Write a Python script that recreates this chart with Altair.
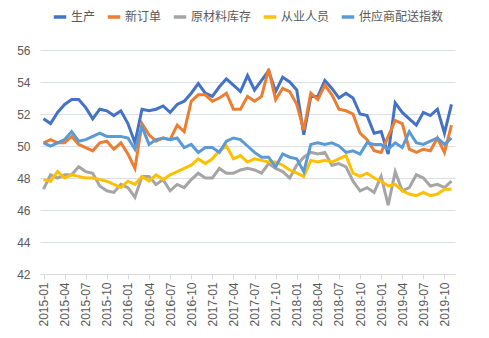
import altair as alt
import pandas as pd

months = [f"{y}-{m:02d}" for y in range(2015, 2020) for m in range(1, 13)][:59]

production = [51.7, 51.4, 52.1, 52.6, 52.9, 52.9, 52.4, 51.7, 52.3, 52.2, 51.9, 52.2,
              51.4, 50.2, 52.3, 52.2, 52.3, 52.5, 52.1, 52.6, 52.8, 53.3, 53.9, 53.3,
              53.1, 53.7, 54.2, 53.8, 53.4, 54.4, 53.5, 54.1, 54.7, 53.4, 54.3, 54.0,
              53.5, 50.7, 53.1, 53.1, 54.1, 53.6, 53.0, 53.3, 53.0, 52.0, 51.9, 50.8,
              50.9, 49.5, 52.7, 52.1, 51.7, 51.3, 52.1, 51.9, 52.3, 50.8, 52.6]
new_orders = [50.2, 50.4, 50.2, 50.2, 50.6, 50.1, 49.9, 49.7, 50.2, 50.3, 49.8, 50.2,
              49.5, 48.6, 51.4, 50.7, 50.3, 50.5, 50.4, 51.3, 50.9, 52.8, 53.2, 53.2,
              52.8, 53.0, 53.3, 52.3, 52.3, 53.1, 52.8, 53.1, 54.8, 52.9, 53.6, 53.4,
              52.6, 51.0, 53.3, 52.9, 53.8, 53.2, 52.3, 52.2, 52.0, 50.8, 50.4, 49.7,
              49.6, 50.6, 51.6, 51.4, 49.8, 49.6, 49.8, 49.7, 50.5, 49.6, 51.3]
raw_inventory = [47.3, 48.2, 48.0, 48.2, 48.2, 48.7, 48.4, 48.3, 47.5, 47.2, 47.1, 47.6,
                 47.4, 46.8, 48.1, 48.1, 47.6, 47.9, 47.2, 47.6, 47.4, 47.9, 48.3, 48.0,
                 48.0, 48.6, 48.3, 48.3, 48.5, 48.6, 48.5, 48.3, 48.9, 48.6, 48.4, 48.0,
                 48.8, 49.3, 49.6, 49.5, 49.6, 48.8, 48.9, 48.7, 47.8, 47.2, 47.4, 47.1,
                 48.1, 46.3, 48.4, 47.2, 47.4, 48.2, 48.0, 47.5, 47.6, 47.4, 47.8]
employment = [47.9, 47.8, 48.4, 48.0, 48.2, 48.1, 48.0, 48.0, 47.9, 47.8, 47.6, 47.4,
              47.8, 47.6, 48.1, 47.8, 48.2, 47.9, 48.2, 48.4, 48.6, 48.8, 49.2, 48.9,
              49.2, 49.7, 50.0, 49.2, 49.4, 49.0, 49.2, 49.1, 49.0, 49.0, 48.8, 48.5,
              48.3, 48.1, 49.1, 49.0, 49.1, 49.0, 49.2, 49.4, 48.3, 48.1, 48.3, 48.0,
              47.8, 47.5, 47.6, 47.2, 47.0, 46.9, 47.1, 46.9, 47.0, 47.3, 47.3]
supplier = [50.2, 50.0, 50.2, 50.4, 50.9, 50.3, 50.4, 50.6, 50.8, 50.6, 50.6, 50.6,
            50.5, 49.8, 51.2, 50.1, 50.4, 50.5, 50.4, 50.5, 49.9, 50.1, 49.6, 49.9,
            49.9, 49.6, 50.3, 50.5, 50.4, 50.0, 49.6, 49.3, 49.3, 48.7, 49.5, 49.3,
            49.2, 48.4, 50.1, 50.2, 50.1, 50.2, 50.0, 49.6, 49.7, 49.5, 50.2, 50.1,
            50.1, 49.8, 50.2, 49.9, 50.9, 50.2, 50.1, 50.3, 50.5, 50.1, 50.5]

series_names = ["生产", "新订单", "原材料库存", "从业人员", "供应商配送指数"]
series_values = [production, new_orders, raw_inventory, employment, supplier]
colors = ["#4472C4", "#ED7D31", "#A5A5A5", "#FFC000", "#5B9BD5"]
y_ticks = [42, 44, 46, 48, 50, 52, 54, 56]

rows = []
for name, vals in zip(series_names, series_values):
    for m, v in zip(months, vals):
        rows.append({"month": m, "series": name, "value": v})
df = pd.DataFrame(rows)

chart = alt.Chart(df).mark_line(strokeWidth=3).encode(
    x=alt.X("month:O",
            scale=alt.Scale(type="point", padding=0.5),
            sort=months,
            axis=alt.Axis(values=months[::3], labelAngle=270, title=None,
                          labelFont="Liberation Sans", labelFontSize=12,
                          labelColor="#595959", domainColor="#D9D9D9",
                          tickColor="#D9D9D9", tickSize=5, labelPadding=3,
                          grid=False)),
    y=alt.Y("value:Q",
            scale=alt.Scale(domain=[42, 56], nice=False, zero=False),
            axis=alt.Axis(values=y_ticks, title=None, domain=False, ticks=False,
                          labelFont="Liberation Sans", labelFontSize=12,
                          labelColor="#595959", labelPadding=10,
                          gridColor="#D9DEE8", gridWidth=1)),
    color=alt.Color("series:N",
                    scale=alt.Scale(domain=series_names, range=colors),
                    legend=alt.Legend(orient="none", direction="horizontal",
                                      legendX=12, legendY=-41, title=None,
                                      symbolType="stroke", symbolSize=156,
                                      symbolStrokeWidth=3.5, labelOffset=3,
                                      columnPadding=4,
                                      labelFont="Noto Sans CJK SC",
                                      labelFontSize=12, labelColor="#595959")),
).properties(
    width=415, height=224,
    padding={"left": 40, "top": 50, "right": 34, "bottom": 64},
    autosize="none",
).configure_view(stroke=None)

chart.save("out.html", embed_options={"renderer": "svg", "actions": False})
